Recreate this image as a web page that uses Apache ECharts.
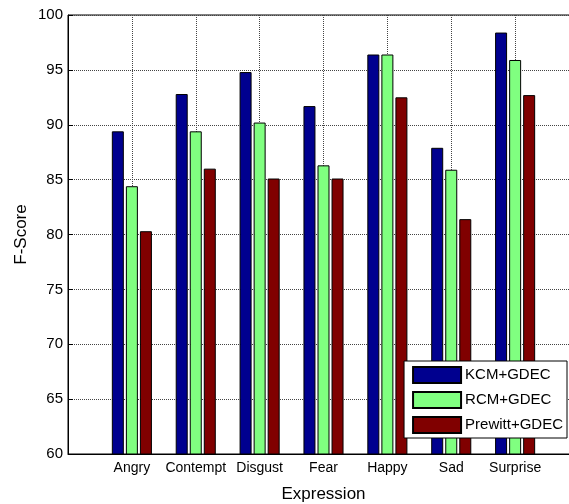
<!DOCTYPE html>
<html>
<head>
<meta charset="utf-8">
<script src="https://cdn.jsdelivr.net/npm/echarts@6/dist/echarts.min.js"></script>
<style>
  html, body { margin: 0; padding: 0; background: #fff; }
  #chart { width: 569px; height: 504px; }
</style>
</head>
<body>
<div id="chart"></div>
<script>
// data
const categories = ['Angry', 'Contempt', 'Disgust', 'Fear', 'Happy', 'Sad', 'Surprise'];
const kcmGdec = [89.4, 92.8, 94.8, 91.7, 96.4, 87.9, 98.4];
const rcmGdec = [84.4, 89.4, 90.2, 86.3, 96.4, 85.9, 95.9];
const prewittGdec = [80.3, 86.0, 85.1, 85.1, 92.5, 81.4, 92.7];
const yTicks = [60, 65, 70, 75, 80, 85, 90, 95, 100];

const font = "'Liberation Sans', Arial, sans-serif";

// categories sit at x = 1..7 on a 0..8 axis (matlab style)
function toPairs(vals) {
  return vals.map((v, i) => [i + 1, v]);
}

function makeSeries(name, vals, color) {
  return {
    name: name,
    type: 'bar',
    data: toPairs(vals),
    barWidth: 12,
    barGap: '17%',
    itemStyle: { color: color, borderColor: '#000', borderWidth: 1 },
    animation: false
  };
}

let chart = echarts.init(document.getElementById('chart'));
chart.setOption({
  animation: false,
  textStyle: { fontFamily: font },
  grid: {
    left: 68, top: 15, bottom: 50, right: -10,
    outerBoundsMode: 'none',
    containLabel: false,
    show: true, borderColor: '#000', borderWidth: 1
  },
  legend: {
    orient: 'vertical',
    right: 2,
    bottom: 66,
    backgroundColor: '#fff',
    borderColor: '#000',
    borderWidth: 1,
    padding: [5, 4, 4, 8],
    itemWidth: 48,
    itemHeight: 16,
    itemGap: 7,
    icon: 'rect',
    textStyle: { fontFamily: font, fontSize: 15, color: '#000', padding: [0, 0, 0, -1] },
    data: ['KCM+GDEC', 'RCM+GDEC', 'Prewitt+GDEC']
  },
  xAxis: {
    type: 'value',
    min: 0,
    max: 8,
    interval: 1,
    name: 'Expression',
    nameLocation: 'middle',
    nameGap: 32,
    nameMoveOverlap: false,
    nameTextStyle: { fontFamily: font, fontSize: 17, color: '#000' },
    axisLine: { show: true, onZero: false, lineStyle: { color: '#000', width: 1 } },
    axisTick: { show: true, inside: true, length: 5, lineStyle: { color: '#000' } },
    axisLabel: {
      fontFamily: font, fontSize: 14, color: '#000', margin: 7,
      formatter: v => categories[v - 1] || ''
    },
    splitLine: { show: true, lineStyle: { color: '#444', type: 'dotted', width: 1 } }
  },
  yAxis: {
    type: 'value',
    min: yTicks[0],
    max: yTicks[yTicks.length - 1],
    interval: 5,
    name: 'F-Score',
    nameLocation: 'middle',
    nameGap: 38,
    nameMoveOverlap: false,
    nameTextStyle: { fontFamily: font, fontSize: 17, color: '#000' },
    axisLine: { show: true, lineStyle: { color: '#000', width: 1 } },
    axisTick: { show: true, inside: true, length: 5, lineStyle: { color: '#000' } },
    axisLabel: { fontFamily: font, fontSize: 15, color: '#000', margin: 5 },
    splitLine: { show: true, lineStyle: { color: '#444', type: 'dotted', width: 1 } }
  },
  series: [
    makeSeries('KCM+GDEC', kcmGdec, '#00008F'),
    makeSeries('RCM+GDEC', rcmGdec, '#80FF80'),
    makeSeries('Prewitt+GDEC', prewittGdec, '#800000')
  ]
});
</script>
</body>
</html>
